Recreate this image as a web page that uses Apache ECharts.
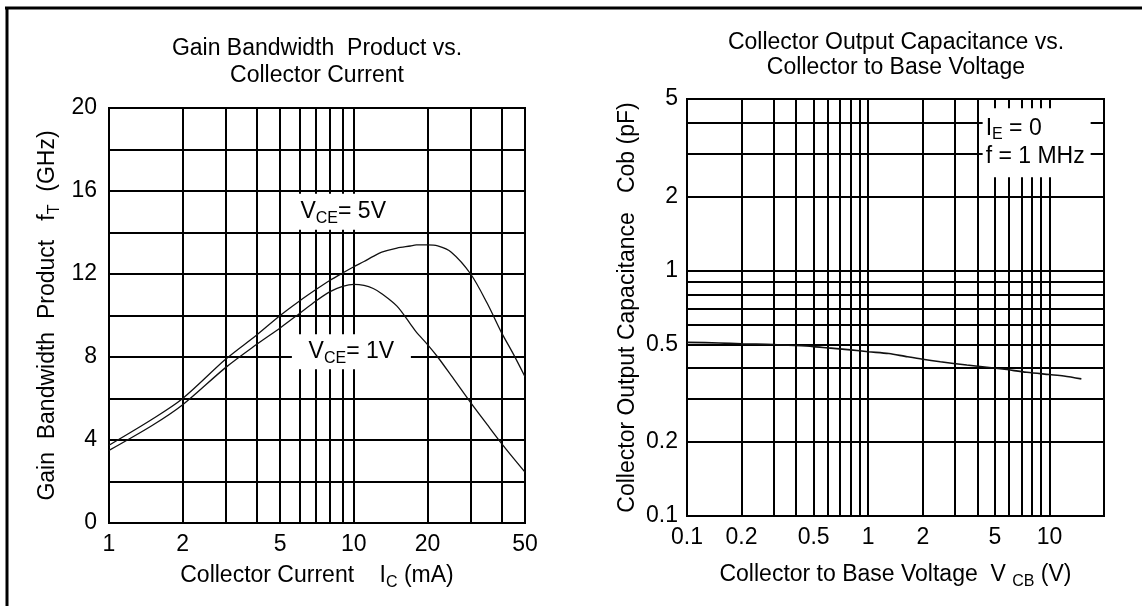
<!DOCTYPE html>
<html><head><meta charset="utf-8">
<script src="https://cdn.jsdelivr.net/npm/echarts@6/dist/echarts.min.js"></script>
<style>html,body{margin:0;padding:0;background:#fff}#c{width:1142px;height:606px}</style>
</head><body><div id="c"></div><script>
// ---- Left chart: Gain Bandwidth Product vs. Collector Current ----
const gbpCurrent = [1, 1.5, 2, 3, 4, 5, 6, 7, 8, 9, 10, 11, 12, 13, 15, 17, 18, 20, 22, 25, 30, 35, 40, 45, 50];
const gbpVce5    = [3.75, 5.0, 6.0, 7.9, 9.05, 10.0, 10.7, 11.25, 11.7, 12.05, 12.35, 12.6, 12.85, 13.05, 13.25, 13.35, 13.4, 13.4, 13.35, 13.05, 12.0, 10.6, 9.2, 8.1, 7.05];
const gbpVce1    = [3.5, 4.7, 5.7, 7.5, 8.6, 9.4, 10.1, 10.7, 11.15, 11.4, 11.5, 11.45, 11.3, 11.05, 10.45, 9.6, 9.2, 8.6, 8.0, 7.1, 5.8, 4.75, 3.85, 3.1, 2.45];
const gbpXTicks  = [1, 2, 5, 10, 20, 50];
const gbpXGrid   = [2, 3, 4, 5, 6, 7, 8, 9, 10, 20, 30, 40];
const gbpYMax = 20, gbpYStep = 2, gbpYLabelStep = 4;

// ---- Right chart: Collector Output Capacitance vs. Collector to Base Voltage ----
const cobVoltage = [0.1, 0.15, 0.2, 0.3, 0.4, 0.5, 0.6, 0.8, 1, 1.3, 1.6, 2, 2.5, 3.5, 5.5, 7.5, 10, 12, 15];
const cobValues  = [0.51, 0.507, 0.503, 0.5, 0.495, 0.49, 0.484, 0.475, 0.467, 0.459, 0.447, 0.435, 0.425, 0.412, 0.397, 0.385, 0.377, 0.372, 0.362];
const cobXTicks  = [0.1, 0.2, 0.5, 1, 2, 5, 10];
const cobXGrid   = [0.2, 0.3, 0.4, 0.5, 0.6, 0.7, 0.8, 0.9, 1, 2, 3, 4, 5, 6, 7, 8, 9, 10];
const cobYTicks  = [0.1, 0.2, 0.5, 1, 2, 5];
const cobYGrid   = [0.2, 0.3, 0.4, 0.5, 0.6, 0.7, 0.8, 0.9, 1, 2, 3, 4];

const FONT = "'Liberation Sans', Arial, sans-serif";
const FS = 23;
const SUB = {fontSize: 16, fontFamily: FONT, color: '#000', verticalAlign: 'bottom', lineHeight: 30};
const MAIN = {fontSize: FS, fontFamily: FONT, color: '#000', lineHeight: 30};
const gridLine = {color: '#000', width: 2, type: 'solid'};

function vLines(vals){ return vals.map(v => ({xAxis: v})); }
function hLines(vals){ return vals.map(v => ({yAxis: v})); }
function gridSeries(xi, xs, ys){
  return {type: 'line', xAxisIndex: xi, yAxisIndex: xi, data: [], silent: true, animation: false,
    markLine: {z: 1, silent: true, animation: false, symbol: ['none','none'], label: {show: false},
      lineStyle: gridLine, data: vLines(xs).concat(hLines(ys))}};
}
function boxLabel(xi, coord, size, formatter, position, distance){
  return {type: 'line', xAxisIndex: xi, yAxisIndex: xi, data: [], silent: true, animation: false,
    markPoint: {z: 6, silent: true, animation: false, symbol: 'rect', symbolSize: size,
      itemStyle: {color: '#fff'},
      label: {show: true, position: position || 'inside', distance: distance || 5, formatter: formatter, color: '#000',
        rich: {m: MAIN, s: SUB,
          l: {fontSize: FS, fontFamily: FONT, color: '#000', lineHeight: 28},
          ls: {fontSize: 16, fontFamily: FONT, color: '#000', verticalAlign: 'bottom', lineHeight: 28}}},
      data: [{coord: coord}]}};
}

const chart = echarts.init(document.getElementById('c'), null, {renderer: 'canvas'});
chart.setOption({
  animation: false,
  backgroundColor: '#fff',
  textStyle: {fontFamily: FONT},
  grid: [
    {left: 109, top: 108, width: 416, height: 415, show: true, borderColor: '#000', borderWidth: 2, backgroundColor: 'transparent'},
    {left: 687, top: 99, width: 417, height: 417, show: true, borderColor: '#000', borderWidth: 2, backgroundColor: 'transparent'}
  ],
  xAxis: [
    {type: 'log', logBase: 10, min: 1, max: 50, gridIndex: 0,
      axisLine: {show: false}, axisTick: {show: false}, splitLine: {show: false},
      axisLabel: {customValues: gbpXTicks, color: '#000', fontSize: FS, fontFamily: FONT, margin: 10},
      name: '{m|Collector Current    I}{s|C}{m| (mA)}', nameLocation: 'middle', nameGap: 38,
      nameTextStyle: {rich: {m: MAIN, s: SUB}}},
    {type: 'log', logBase: 10, min: 0.1, max: 20, gridIndex: 1,
      axisLine: {show: false}, axisTick: {show: false}, splitLine: {show: false},
      axisLabel: {customValues: cobXTicks, color: '#000', fontSize: FS, fontFamily: FONT, margin: 10},
      name: '{m|Collector to Base Voltage  V }{s|CB}{m| (V)}', nameLocation: 'middle', nameGap: 44,
      nameTextStyle: {rich: {m: MAIN, s: SUB}}}
  ],
  yAxis: [
    {type: 'value', min: 0, max: gbpYMax, interval: gbpYStep, gridIndex: 0,
      axisLine: {show: false}, axisTick: {show: false},
      splitLine: {show: true, lineStyle: gridLine},
      axisLabel: {color: '#000', fontSize: FS, fontFamily: FONT, margin: 12,
        formatter: v => (v % gbpYLabelStep === 0 ? String(v) : '')},
      name: '{m|Gain  Bandwidth  Product   f}{s|T}{m|  (GHz)}', nameLocation: 'middle', nameGap: 46,
      nameTextStyle: {rich: {m: MAIN, s: SUB}}},
    {type: 'log', logBase: 10, min: 0.1, max: 5, gridIndex: 1,
      axisLine: {show: false}, axisTick: {show: false}, splitLine: {show: false},
      axisLabel: {customValues: cobYTicks, color: '#000', fontSize: FS, fontFamily: FONT, margin: 9},
      name: 'Collector Output Capacitance   Cob (pF)', nameLocation: 'middle', nameGap: 48,
      nameTextStyle: {color: '#000', fontSize: FS, fontFamily: FONT}}
  ],
  graphic: [
    {type: 'line', shape: {x1: 5, y1: 8, x2: 1142, y2: 8}, style: {stroke: '#000', lineWidth: 3}, z: 100},
    {type: 'line', shape: {x1: 7, y1: 7, x2: 7, y2: 606}, style: {stroke: '#000', lineWidth: 3}, z: 100},
    {type: 'text', x: 317, y: 62, style: {text: 'Gain Bandwidth  Product vs.\nCollector Current', align: 'center', verticalAlign: 'middle', font: FS + 'px ' + FONT, lineHeight: 27, fill: '#000'}},
    {type: 'text', x: 896, y: 55, style: {text: 'Collector Output Capacitance vs.\nCollector to Base Voltage', align: 'center', verticalAlign: 'middle', font: FS + 'px ' + FONT, lineHeight: 25, fill: '#000'}}
  ],
  series: [
    gridSeries(0, gbpXGrid, []),
    gridSeries(1, cobXGrid, cobYGrid),
    boxLabel(0, [9.05, 15.0], [115, 36], '{m|V}{s|CE}{m|= 5V}'),
    boxLabel(0, [9.77, 8.25], [119, 35], '{m|V}{s|CE}{m|= 1V}'),
    boxLabel(1, [8.5, 3.32], [108, 69], '{l|I}{ls|E}{l| = 0}\n{l|f = 1 MHz}', 'insideLeft', 3),
    {name: 'VCE=5V', type: 'line', xAxisIndex: 0, yAxisIndex: 0, z: 8, smooth: 0.3, showSymbol: false,
      lineStyle: {color: '#111', width: 1.3}, data: gbpCurrent.map((x, i) => [x, gbpVce5[i]])},
    {name: 'VCE=1V', type: 'line', xAxisIndex: 0, yAxisIndex: 0, z: 8, smooth: 0.3, showSymbol: false,
      lineStyle: {color: '#111', width: 1.3}, data: gbpCurrent.map((x, i) => [x, gbpVce1[i]])},
    {name: 'Cob', type: 'line', xAxisIndex: 1, yAxisIndex: 1, z: 8, smooth: 0.3, showSymbol: false,
      lineStyle: {color: '#111', width: 1.6}, data: cobVoltage.map((x, i) => [x, cobValues[i]])}
  ]
});
</script></body></html>
